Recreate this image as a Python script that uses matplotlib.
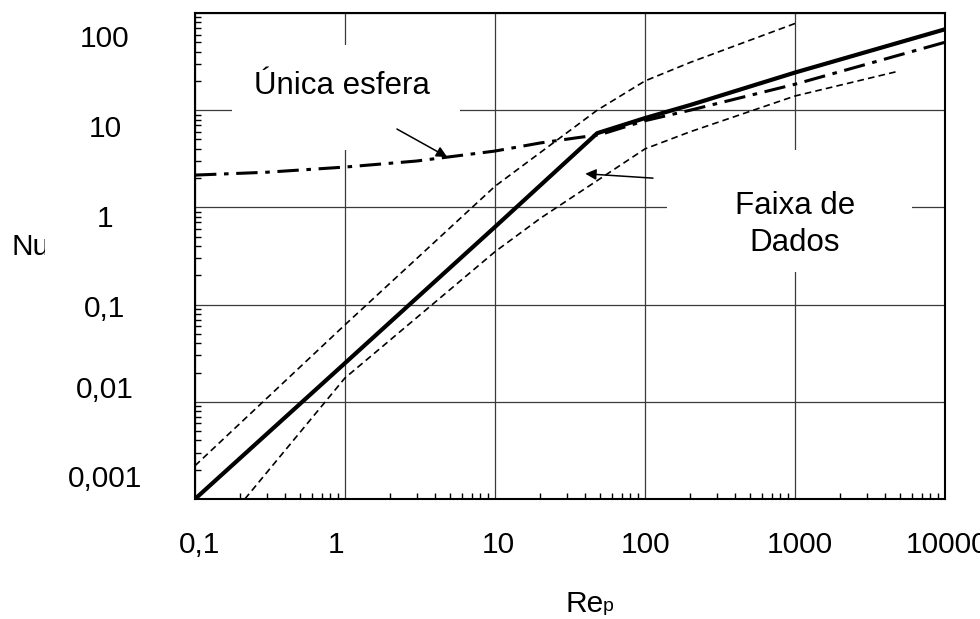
import matplotlib
matplotlib.use("Agg")
import matplotlib.pyplot as plt
from matplotlib.patches import Rectangle
from matplotlib.ticker import LogLocator, NullFormatter, FixedLocator, FixedFormatter
from matplotlib.transforms import Bbox, TransformedBbox, ScaledTranslation

plt.rcParams["font.family"] = ["Liberation Sans", "DejaVu Sans"]

# Correlation curve (thick solid)
re_solid = [0.1, 1, 10, 48, 100, 200, 1000, 10000]
nu_solid = [0.001, 0.025, 0.63, 5.8, 8.3, 11.3, 24.4, 68]

# Single sphere (dash-dot)
re_sphere = [0.1, 0.3, 1, 3, 10, 20, 35, 50, 100, 200, 1000, 10000]
nu_sphere = [2.15, 2.3, 2.6, 3.0, 3.8, 4.6, 5.2, 5.6, 7.8, 10.0, 18.5, 50]

# Data band, upper and lower limits (dashed)
re_band_hi = [0.1, 1, 10, 48, 100, 200, 1000]
nu_band_hi = [0.0022, 0.062, 1.65, 10, 20, 31, 78]

re_band_lo = [0.215, 1, 1.7, 10, 20, 100, 200, 1000, 4800]
nu_band_lo = [0.001, 0.0176, 0.035, 0.35, 0.77, 4.0, 6.0, 14, 25]

x_ticks = [0.1, 1, 10, 100, 1000, 10000]
x_labels = ["0,1", "1", "10", "100", "1000", "10000"]
y_ticks = [0.001, 0.01, 0.1, 1, 10, 100]
y_labels = ["0,001", "0,01", "0,1", "1", "10", "100"]
# horizontal nudge of each x label (pixels)
x_label_shift = [5, -9, 3, 1, 5, 2]
# vertical shift of each y label baseline below its grid line (pixels)
y_label_shift = [-12, -4, 12, 20, 27, 34]

FS = 21.5
DPI = 100

fig = plt.figure(figsize=(9.8, 6.19), dpi=DPI)
ax = fig.add_axes([195 / 980, 120 / 619, 750 / 980, 486 / 619])
ax.set_xscale("log")
ax.set_yscale("log")
ax.set_xlim(0.1, 10000)
ax.set_ylim(0.001, 100)
ax.set_axisbelow(True)

# grid and ticks
ax.xaxis.set_major_locator(FixedLocator(x_ticks))
ax.xaxis.set_major_formatter(FixedFormatter(x_labels))
ax.yaxis.set_major_locator(FixedLocator(y_ticks))
ax.yaxis.set_major_formatter(NullFormatter())
ax.xaxis.set_minor_locator(LogLocator(base=10, subs=range(2, 10), numticks=20))
ax.yaxis.set_minor_locator(LogLocator(base=10, subs=range(2, 10), numticks=20))
ax.xaxis.set_minor_formatter(NullFormatter())
ax.yaxis.set_minor_formatter(NullFormatter())
ax.grid(True, which="major", color="#3a3a3a", lw=0.9)
ax.tick_params(which="major", length=0, labelsize=FS, pad=39)
ax.tick_params(which="minor", direction="in", length=4, width=1.0, color="black")
ax.tick_params(top=False, right=False, which="both")
for lab, dx in zip(ax.get_xticklabels(), x_label_shift):
    lab.set_verticalalignment("baseline")
    lab.set_transform(lab.get_transform() + ScaledTranslation(dx / DPI, 0, fig.dpi_scale_trans))

for side in ["left", "bottom", "top", "right"]:
    ax.spines[side].set_linewidth(1.5)
    ax.spines[side].set_color("black")

# y labels
for val, lab, dy in zip(y_ticks, y_labels, y_label_shift):
    tr = ax.get_yaxis_transform() + ScaledTranslation(-90 / DPI, -dy / DPI, fig.dpi_scale_trans)
    ax.text(0, val, lab, transform=tr, ha="center", va="baseline", fontsize=FS, clip_on=False)

# white label backgrounds
ax.add_patch(Rectangle((0.049, 0.718), 0.304, 0.216, transform=ax.transAxes,
                       facecolor="white", edgecolor="none", zorder=1))
ax.add_patch(Rectangle((0.629, 0.467), 0.327, 0.251, transform=ax.transAxes,
                       facecolor="white", edgecolor="none", zorder=1))

# curves
ax.plot(re_band_hi, nu_band_hi, color="black", lw=1.2, linestyle=(0, (4, 2.5)), zorder=2)
ax.plot(re_band_lo, nu_band_lo, color="black", lw=1.2, linestyle=(0, (4, 2.5)), zorder=2)
ax.plot(re_sphere, nu_sphere, color="black", lw=2.2, linestyle=(0, (7, 2.5, 1.5, 2.5)), zorder=2)
ax.plot(re_solid, nu_solid, color="black", lw=3.0, solid_capstyle="butt", zorder=3)

# annotations
ax.text(0.96, 14.7, "Única esfera", ha="center", va="baseline", fontsize=22.5, zorder=4)
ax.annotate("", xy=(4.8, 3.3), xytext=(2.22, 6.4),
            arrowprops=dict(arrowstyle="-|>", color="black", lw=1.1, mutation_scale=16,
                            shrinkA=0, shrinkB=0), zorder=4)
ax.text(1000, 0.67, "Faixa de\nDados", ha="center", va="center", fontsize=22.5,
        linespacing=1.3, zorder=4)
ax.annotate("", xy=(40, 2.22), xytext=(113, 2.0),
            arrowprops=dict(arrowstyle="-|>", color="black", lw=1.1, mutation_scale=16,
                            shrinkA=0, shrinkB=0), zorder=4)

# axis titles
fig.text(565 / 980, 1 - 612 / 619, "Re", ha="left", va="baseline", fontsize=FS)
fig.text(603 / 980, 1 - 611 / 619, "p", ha="left", va="baseline", fontsize=14)
nu = fig.text(12 / 980, 1 - 255 / 619, "Nu", ha="left", va="baseline", fontsize=FS)
nu.set_clip_box(TransformedBbox(Bbox([[0, 0], [0.445, 6.19]]), fig.dpi_scale_trans))
nu.set_clip_on(True)

fig.savefig("out.png", dpi=DPI)
